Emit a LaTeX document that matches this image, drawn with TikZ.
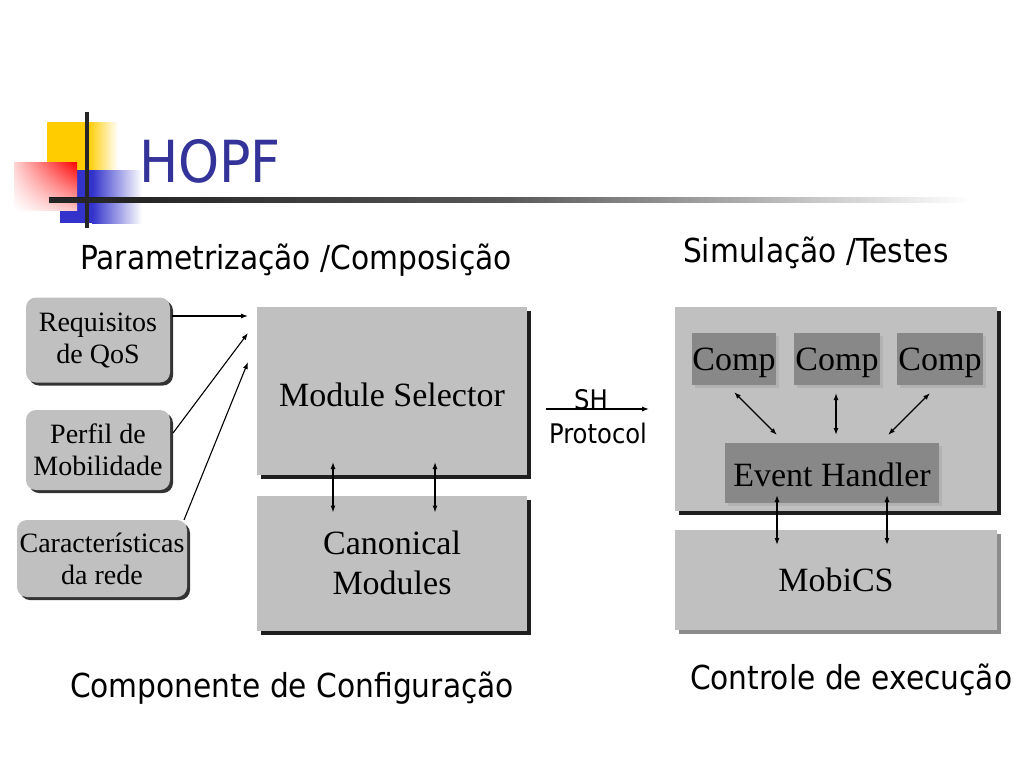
\documentclass[tikz,border=0pt]{standalone}
\usepackage{fontspec}
\setmainfont{Liberation Serif}
\newfontfamily\tahoma[FakeStretch=0.9]{DejaVu Sans}
\usetikzlibrary{arrows.meta,calc,shadows,shadings}
\definecolor{boxgray}{HTML}{C0C0C0}
\definecolor{compgray}{HTML}{888888}
\definecolor{titleblue}{HTML}{333399}
\definecolor{decoblue}{HTML}{3333CC}
\definecolor{decoyellow}{HTML}{FFCC00}
\begin{document}
\begin{tikzpicture}[x=1pt,y=-1pt,
  every node/.style={inner sep=0pt,outer sep=0pt},
  inbox/.style={fill=boxgray, rounded corners=10pt, align=center,
    font=\fontsize{28}{32}\selectfont,
    drop shadow={shadow xshift=3pt, shadow yshift=-3pt, fill=black!80, opacity=1}},
  bigbox/.style={fill=boxgray, align=center, font=\fontsize{34}{40}\selectfont,
    drop shadow={shadow xshift=4pt, shadow yshift=-4pt, fill=black!88, opacity=1}},
  mobbox/.style={fill=boxgray, align=center, font=\fontsize{34}{40}\selectfont,
    drop shadow={shadow xshift=4pt, shadow yshift=-4pt, fill=black!45, opacity=1}},
  compbox/.style={fill=compgray, align=center, font=\fontsize{34}{40}\selectfont,
    drop shadow={shadow xshift=3pt, shadow yshift=-3pt, fill=black!30, opacity=1}},
  conn/.style={-{Latex[length=7pt,width=5pt]}, line width=1.1pt},
  dconn/.style={{Latex[length=7pt,width=5pt]}-{Latex[length=7pt,width=5pt]}, line width=1.3pt},
  heading/.style={font=\tahoma\fontsize{33}{38}\selectfont, anchor=base west}
]
\useasboundingbox (0,0) rectangle (1024,768);
\fill[white] (0,0) rectangle (1024,768);

% decoration
\fill[decoyellow] (47,122) rectangle (88,172);
\shade[left color=decoyellow, right color=white] (88,122) rectangle (118,172);
\fill[decoblue] (60,170) rectangle (92,223);
\shade[left color=decoblue, right color=white] (92,170) rectangle (142,223);
\shade[upper left=red!18, upper right=red, lower left=white, lower right=red!22] (14,162) rectangle (77,210);
\shade[left color=black!90, right color=white, middle color=black!65] (49,197.5) rectangle (970,202.5);
\fill[black!85] (85,112) rectangle (89,228);
\fill[black!85] (49,197.5) rectangle (120,202.5);

% title
\node[font=\tahoma\fontsize{58}{64}\selectfont, text=titleblue, anchor=base west] (title) at (139,182) {HOPF};

% headings
\node[heading] (h1) at (80,269) {Parametrização /Composição};
\node[heading] (h2) at (683,262) {Simulação /Testes};
\node[heading] (h3) at (70,697) {Componente de Configuração};
\node[heading] (h4) at (690,689) {Controle de execução};

% left inputs
\node[inbox, minimum width=144pt, minimum height=85pt] (req) at (98,340) {Requisitos\\de QoS};
\node[inbox, minimum width=144pt, minimum height=80pt] (perf) at (98,450) {Perfil de\\Mobilidade};
\node[inbox, minimum width=170pt, minimum height=77pt] (car) at (102,558.5) {Características\\da rede};

% configuration component
\node[bigbox, minimum width=270pt, minimum height=168pt, text height=31pt, text depth=0pt] (ms) at (392,391) {Module Selector};
\node[bigbox, minimum width=270pt, minimum height=135pt] (cm) at (392,563) {Canonical\\Modules};

% simulation
\node[bigbox, minimum width=322pt, minimum height=204pt] (sim) at (836,409) {};
\node[compbox, minimum width=84pt, minimum height=52pt, text depth=0pt] (c1) at (734,359) {Comp};
\node[compbox, minimum width=86pt, minimum height=52pt, text depth=0pt] (c2) at (837,359) {Comp};
\node[compbox, minimum width=86pt, minimum height=52pt, text depth=0pt] (c3) at (940,359) {Comp};
\node[compbox, minimum width=214pt, minimum height=60pt, text height=27pt, text depth=0pt] (eh) at (832,473) {Event Handler};
\node[mobbox, minimum width=322pt, minimum height=100pt] (mob) at (836,580) {MobiCS};

% input arrows
\coordinate (t1) at (248,316);
\coordinate (t2) at (248,333);
\coordinate (t3) at (248,362);
\draw[conn] ($(req.east)+(2,-24)$) -- (t1);
\draw[conn] ($(perf.east)+(3,-17)$) -- (t2);
\draw[conn] ($(car.north east)+(-3,0)$) -- (t3);

% selector <-> canonical
\draw[dconn] ($(ms.south)+(-59,-13)$) -- ($(cm.north)+(-59,17)$);
\draw[dconn] ($(ms.south)+(43,-13)$) -- ($(cm.north)+(43,17)$);

% SH protocol
\coordinate (sh1) at (546,409);
\coordinate (sh2) at (649,409);
\draw[conn] (sh1) -- (sh2);
\node[font=\tahoma\fontsize{27}{30}\selectfont, anchor=base] (shl) at (591,409) {SH};
\node[font=\tahoma\fontsize{27}{30}\selectfont, anchor=base] (prl) at (598,443) {Protocol};

% comp <-> event handler
\draw[dconn] ($(c1.south)+(0,7)$) -- ($(eh.north)+(-55,-8)$);
\draw[dconn] ($(c2.south)+(-1,8)$) -- ($(eh.north)+(4,-8)$);
\draw[dconn] ($(c3.south)+(-10,8)$) -- ($(eh.north)+(56,-8)$);

% event handler <-> mobics
\draw[dconn] ($(eh.south)+(-55,-8)$) -- ($(mob.north)+(-59,15)$);
\draw[dconn] ($(eh.south)+(55,-8)$) -- ($(mob.north)+(51,15)$);
\end{tikzpicture}
\end{document}
